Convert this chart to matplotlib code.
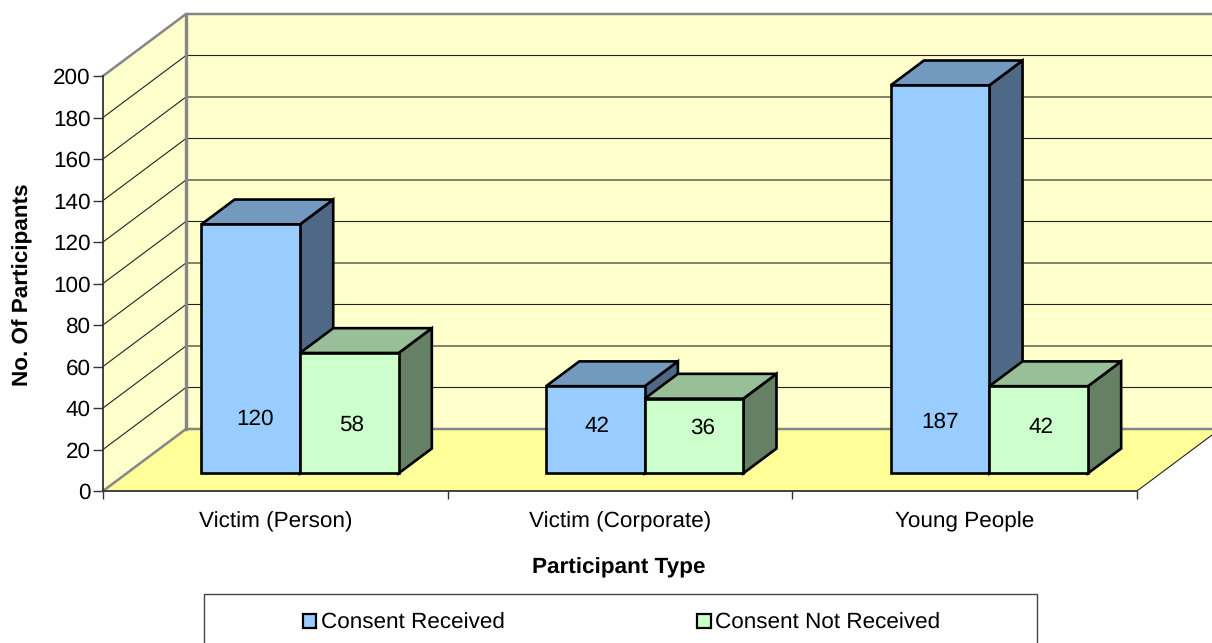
"""Bar chart pseudo-3D: consent per participant type."""
import matplotlib
matplotlib.use("Agg")
import matplotlib.pyplot as plt
from matplotlib.patches import Polygon, Rectangle

plt.rcParams["font.family"] = ["Liberation Sans", "DejaVu Sans"]
plt.rcParams["text.hinting"] = "no_hinting"

categories = ["Victim (Person)", "Victim (Corporate)", "Young People"]
consent_received = [120, 42, 187]
consent_not_received = [58, 36, 42]
y_ticks = list(range(0, 201, 20))
series_names = ["Consent Received", "Consent Not Received"]

W, H = 1212, 643
FS = 16.2
GRAY = "#868686"
DARK = "#333333"

fig = plt.figure(figsize=(W / 100, H / 100), dpi=100)
# front plane of the chart box
ax = fig.add_axes([103 / W, 1 - 491 / H, 1034 / W, 415 / H])
ax.set_xlim(0, 3)
ax.set_ylim(0, 200)
ax.patch.set_visible(False)

# depth of the box in data units (1 = full depth)
DX = 83 / (1034 / 3)
DY = 62 / (415 / 200)


def pt(x, y, d=0.0):
    return (x + DX * d, y + DY * d)


def poly(points, fc, ec="none", lw=0.0, z=1):
    ax.add_patch(Polygon(points, closed=True, facecolor=fc, edgecolor=ec,
                         linewidth=lw, joinstyle="miter", clip_on=False, zorder=z))


# walls and floor
poly([pt(0, 0, 1), pt(3, 0, 1), pt(3, 200, 1), pt(0, 200, 1)], "#FFFFCC")
poly([pt(0, 0), pt(0, 0, 1), pt(0, 200, 1), pt(0, 200)], "#FFFFCC")
poly([pt(0, 0), pt(3, 0), pt(3, 0, 1), pt(0, 0, 1)], "#FFFF99")

for v in y_ticks[1:-1]:
    a, b, c = pt(0, v), pt(0, v, 1), pt(3, v, 1)
    ax.plot([a[0], b[0], c[0]], [a[1], b[1], c[1]], color="#222222", lw=0.8,
            clip_on=False, zorder=2)

# wall edges
a, b, c = pt(0, 200), pt(0, 200, 1), pt(3, 200, 1)
ax.plot([a[0], b[0], c[0]], [a[1], b[1], c[1]], color=GRAY, lw=1.8, clip_on=False, zorder=2)
a, b, c = pt(0, 0), pt(0, 0, 1), pt(3, 0, 1)
ax.plot([a[0], b[0], c[0]], [a[1], b[1], c[1]], color=GRAY, lw=1.8, clip_on=False, zorder=2)
a, b = pt(0, 0, 1), pt(0, 200, 1)
ax.plot([a[0], b[0]], [a[1], b[1]], color=GRAY, lw=2.4, clip_on=False, zorder=2)
a, b = pt(3, 0), pt(3, 0, 1)
ax.plot([a[0], b[0]], [a[1], b[1]], color="#222222", lw=0.8, clip_on=False, zorder=2)

# bars
BAR_W = 98.6 / (1034 / 3)
D0, D1 = 0.285, 0.685
BAR_SHIFT = 0.003
FACES = [("#99CCFF", "#7399BF", "#4F6885"), ("#CCFFCC", "#99BF99", "#668066")]
LABEL_NUDGE = [[(4, 54), (2, 48)], [(2, 47), (9, 45)], [(0, 51), (2, 46)]]

z = 3
for i, vals in enumerate(zip(consent_received, consent_not_received)):
    for s, v in enumerate(vals):
        x0 = i + 0.5 + (s - 1) * BAR_W + BAR_SHIFT
        x1 = x0 + BAR_W
        front, top, side = FACES[s]
        # side, top, front
        poly([pt(x1, 0, D0), pt(x1, 0, D1), pt(x1, v, D1), pt(x1, v, D0)], side, "black", 1.9, z)
        poly([pt(x0, v, D0), pt(x1, v, D0), pt(x1, v, D1), pt(x0, v, D1)], top, "black", 1.9, z)
        poly([pt(x0, 0, D0), pt(x1, 0, D0), pt(x1, v, D0), pt(x0, v, D0)], front, "black", 1.9, z)
        ax.annotate(str(v), pt((x0 + x1) / 2, 0, D0), xytext=LABEL_NUDGE[i][s],
                    textcoords="offset pixels", ha="center", va="center",
                    fontsize=FS, color="black", zorder=z + 1)
        z += 1

# axes
for name in ("top", "right"):
    ax.spines[name].set_visible(False)
for name in ("left", "bottom"):
    ax.spines[name].set_color(DARK)
    ax.spines[name].set_linewidth(1.3)
    ax.spines[name].set_zorder(2.5)

ax.set_yticks(y_ticks)
ax.set_xticks([0, 1, 2, 3])
ax.set_xticklabels([])
ax.set_xticks([0.5, 1.5, 2.5], minor=True)
ax.set_xticklabels(categories, minor=True, fontsize=FS)
ax.tick_params(axis="x", which="major", length=6, width=1.0, color=DARK)
ax.tick_params(axis="x", which="minor", length=0, pad=14.5)
ax.tick_params(axis="y", length=7, width=1.0, color=DARK, labelsize=FS, pad=2)

fig.text(23 / W, 1 - 285 / H, "No. Of Participants", rotation=90, ha="center",
         va="center", fontsize=FS, fontweight="bold")
fig.text(619 / W, 1 - 568 / H, "Participant Type", ha="center", va="center",
         fontsize=FS, fontweight="bold")

# legend: frame runs past the bottom of the picture
fig.add_artist(Rectangle((204 / W, -0.05), 833 / W, 0.05 + 1 - 594 / H,
                         transform=fig.transFigure, facecolor="white",
                         edgecolor="#444444", linewidth=1.0))
handles = [Rectangle((0, 0), 1, 1, facecolor=FACES[k][0], edgecolor="black", linewidth=1.6)
           for k in range(2)]
leg = fig.legend(handles, series_names, ncol=2, frameon=False, fontsize=FS,
                 loc="center", bbox_to_anchor=(621.5 / W, 1 - 623 / H),
                 handlelength=0.6, handleheight=0.6, handletextpad=0.2,
                 columnspacing=8.55, borderpad=0, borderaxespad=0)
leg.set_zorder(5)

fig.savefig("out.png", dpi=100)
plt.close(fig)
